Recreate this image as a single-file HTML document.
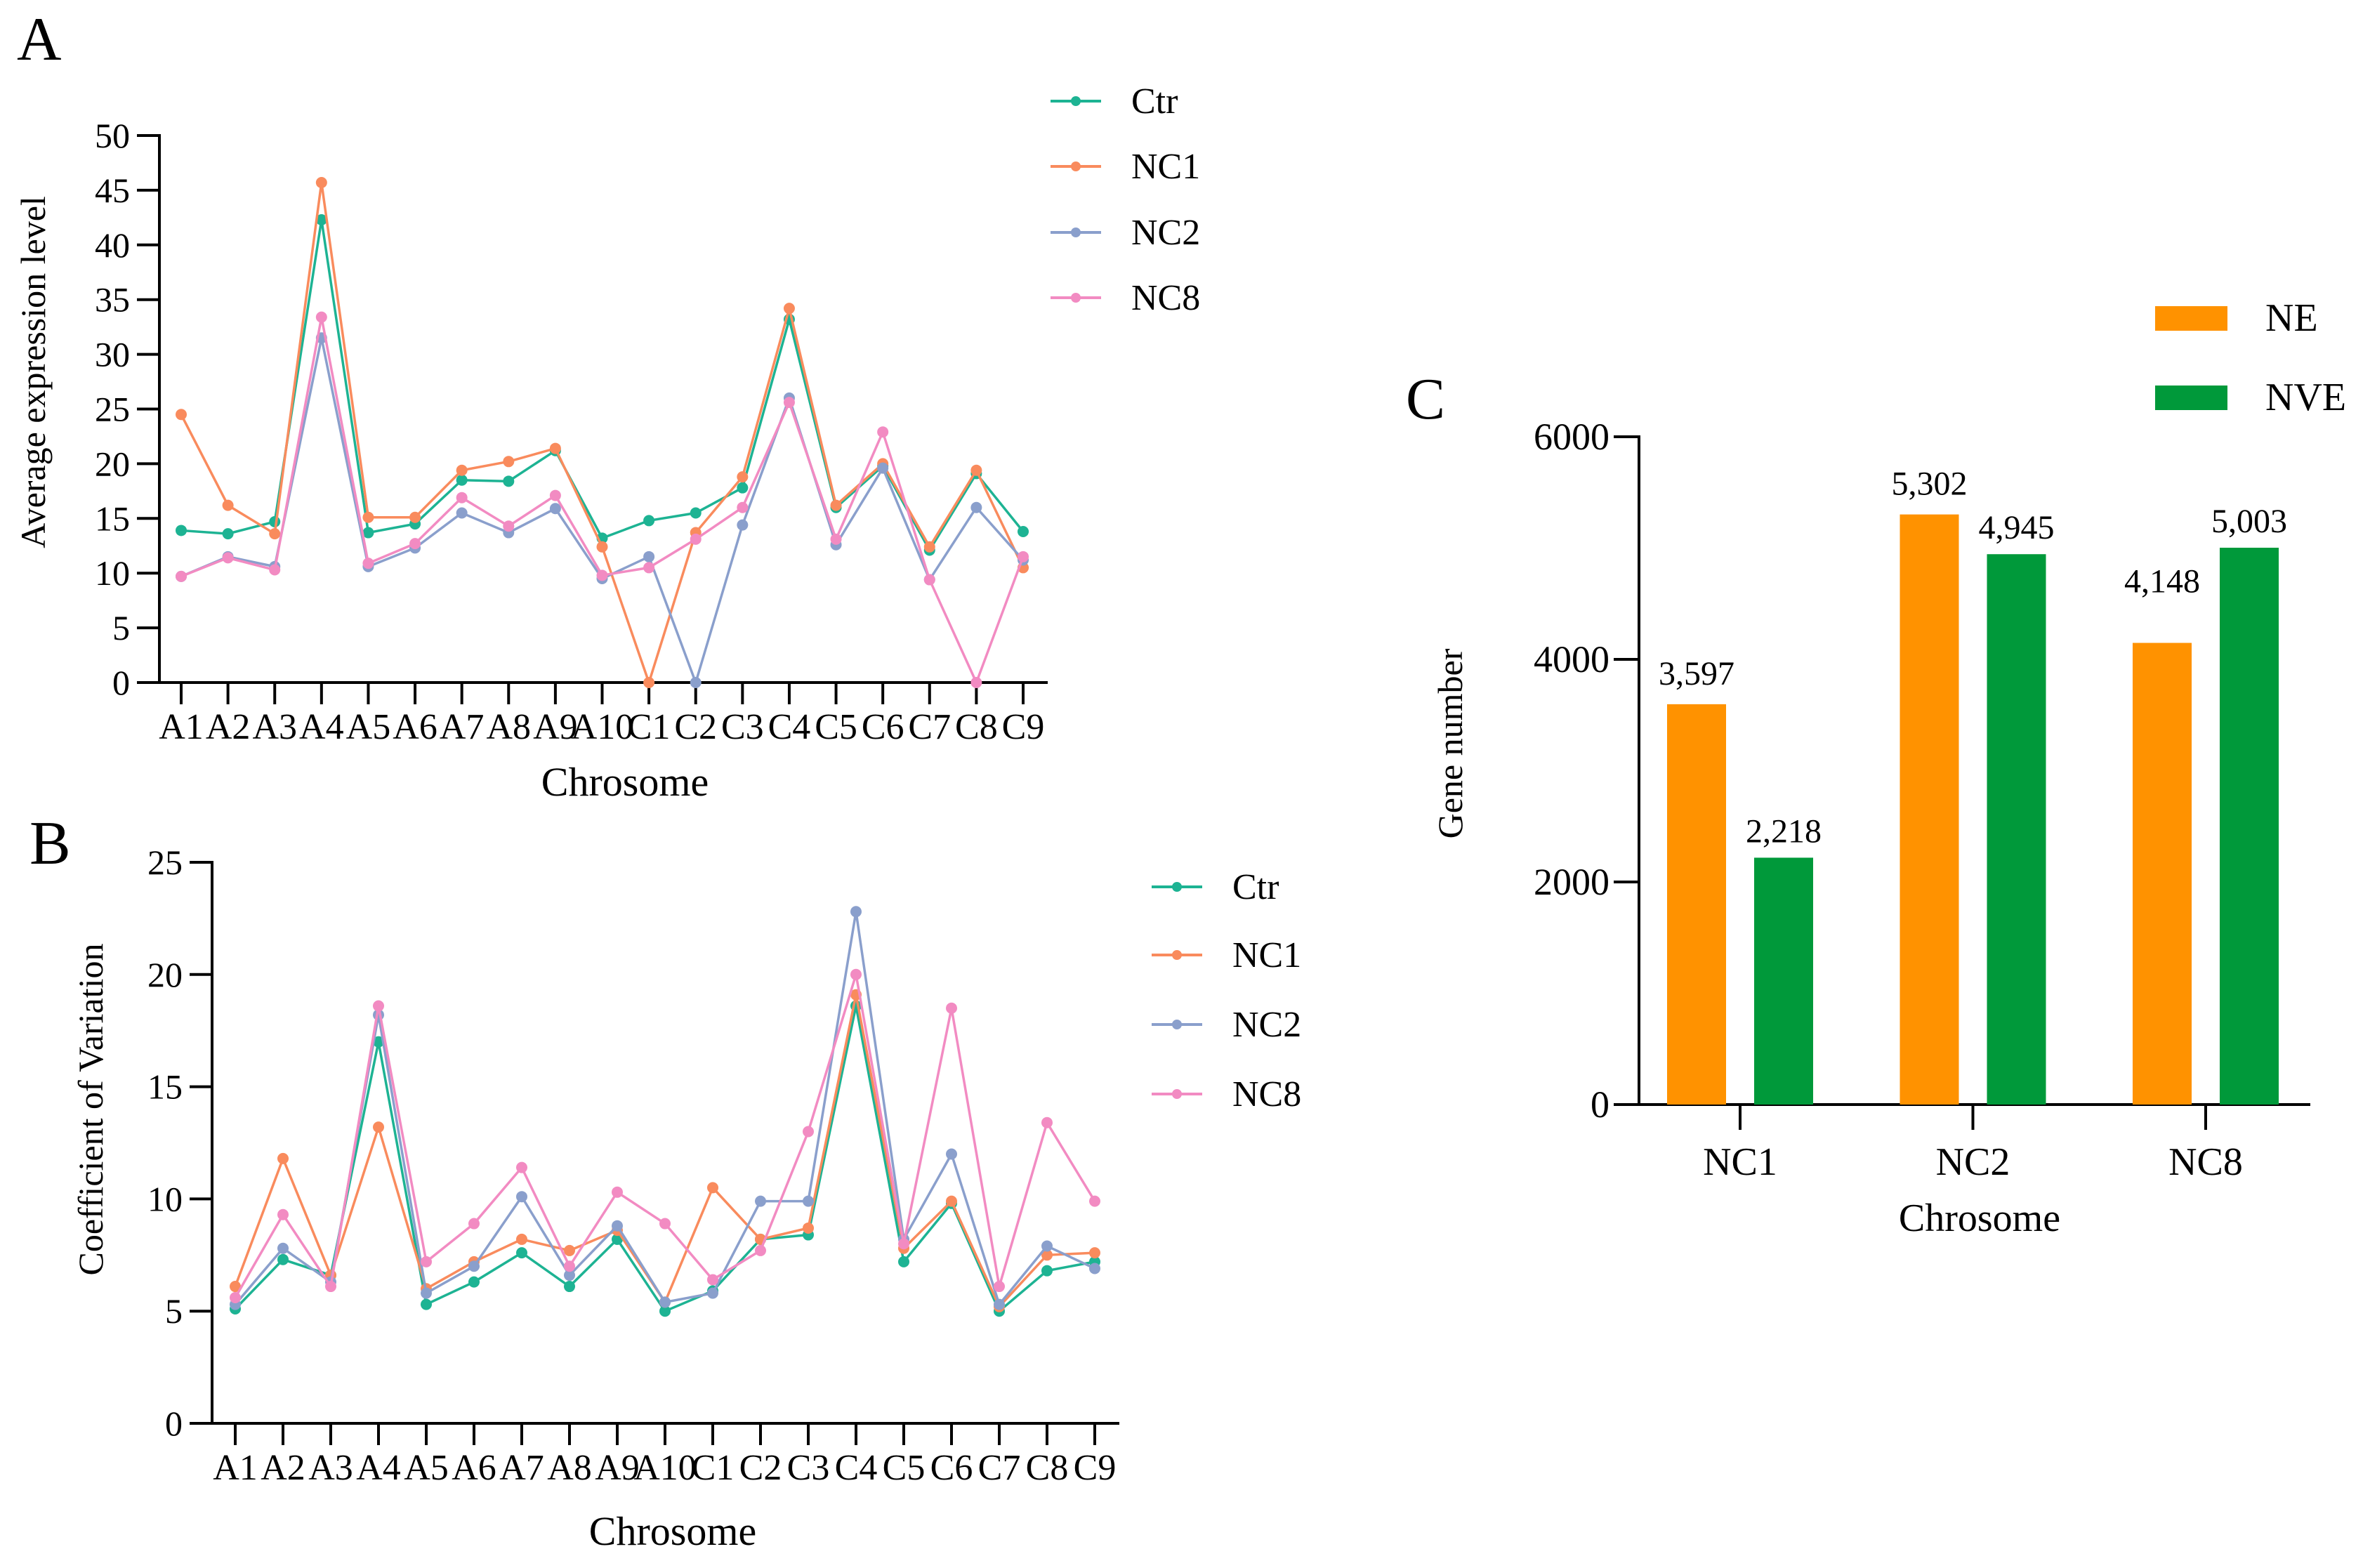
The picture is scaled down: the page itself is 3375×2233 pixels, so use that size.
<!DOCTYPE html>
<html><head><meta charset="utf-8"><style>
html,body{margin:0;padding:0;background:#fff;}
svg, svg text{font-family:"Liberation Serif","Times New Roman","DejaVu Serif",serif;}
svg{display:block;}
</style></head><body>
<svg id="fig" width="3375" height="2233" viewBox="0 0 3375 2233" xmlns="http://www.w3.org/2000/svg" font-family="Liberation Serif, Times New Roman, serif"></svg>
<script>
const chroms = ["A1","A2","A3","A4","A5","A6","A7","A8","A9","A10","C1","C2","C3","C4","C5","C6","C7","C8","C9"];
const seriesNames = ["Ctr","NC1","NC2","NC8"];
const exprCtr = [13.9,13.6,14.7,42.3,13.7,14.5,18.5,18.4,21.2,13.2,14.8,15.5,17.8,33.2,16.0,19.8,12.1,19.1,13.8];
const exprNC1 = [24.5,16.2,13.6,45.7,15.1,15.1,19.4,20.2,21.4,12.4,0,13.7,18.8,34.2,16.2,20.0,12.4,19.4,10.5];
const exprNC2 = [9.7,11.5,10.6,31.5,10.6,12.3,15.5,13.7,15.9,9.5,11.5,0,14.4,26.0,12.6,19.6,9.4,16.0,11.2];
const exprNC8 = [9.7,11.4,10.3,33.4,10.9,12.7,16.9,14.3,17.1,9.8,10.5,13.1,16.0,25.6,13.1,22.9,9.4,0,11.5];
const cvCtr = [5.1,7.3,6.6,17.0,5.3,6.3,7.6,6.1,8.2,5.0,5.9,8.2,8.4,18.6,7.2,9.8,5.0,6.8,7.2];
const cvNC1 = [6.1,11.8,6.6,13.2,6.0,7.2,8.2,7.7,8.6,5.4,10.5,8.2,8.7,19.1,7.8,9.9,5.2,7.5,7.6];
const cvNC2 = [5.3,7.8,6.3,18.2,5.8,7.0,10.1,6.6,8.8,5.4,5.8,9.9,9.9,22.8,8.2,12.0,5.3,7.9,6.9];
const cvNC8 = [5.6,9.3,6.1,18.6,7.2,8.9,11.4,7.0,10.3,8.9,6.4,7.7,13.0,20.0,8.0,18.5,6.1,13.4,9.9];
const ticksA = [0,5,10,15,20,25,30,35,40,45,50];
const ticksB = [0,5,10,15,20,25];
const groupsC = ["NC1","NC2","NC8"];
const neVals = [3597,5302,4148];
const nveVals = [2218,4945,5003];
const neLabels = ["3,597","5,302","4,148"];
const nveLabels = ["2,218","4,945","5,003"];
const ticksC = [0,2000,4000,6000];

const NS="http://www.w3.org/2000/svg";
const svg=document.getElementById('fig');
const colors={Ctr:"#1db393",NC1:"#f98b5d",NC2:"#8a9fcc",NC8:"#f28bc2"};
const FF='"Liberation Serif","Times New Roman",serif';
function el(tag,attrs,parent,text){const e=document.createElementNS(NS,tag);for(const k in attrs)e.setAttribute(k,attrs[k]);if(tag==='text')e.setAttribute('style','font-family:'+FF);if(text!==undefined)e.textContent=text;(parent||svg).appendChild(e);return e;}

function lineChart(o){
  const g=el('g',{});
  
  
  const ys=v=>o.y0-(v-o.ymin)/(o.ymax-o.ymin)*(o.y0-o.ytop);
  const xs=i=>o.x0+i*(o.x1-o.x0)/(chroms.length-1);
  const ya=el('line',{x1:o.ax,y1:o.ytop-2,x2:o.ax,y2:o.y0,stroke:"#000","stroke-width":4},g);
  
  const xa=el('line',{x1:o.ax-2,y1:o.y0,x2:o.axEnd,y2:o.y0,stroke:"#000","stroke-width":4},g);
  
  o.ticks.forEach(t=>{
    el('line',{x1:o.ax-32,y1:ys(t),x2:o.ax,y2:ys(t),stroke:"#000","stroke-width":4},g);
    const tl=el('text',{x:o.ax-42,y:ys(t)+17,"font-size":50,"text-anchor":"end"},g,String(t));
    
  });
  chroms.forEach((c,i)=>{
    el('line',{x1:xs(i),y1:o.y0,x2:xs(i),y2:o.y0+31,stroke:"#000","stroke-width":4},g);
    const tl=el('text',{x:xs(i),y:o.y0+80,"font-size":52,"text-anchor":"middle"},g,c);
    
  });
  o.series.forEach((arr,si)=>{
    const nm=seriesNames[si],col=colors[nm];
    const sg=el('g',{},g);
    
    const pts=arr.map((v,i)=>xs(i)+","+ys(v)).join(" ");
    el('polyline',{points:pts,fill:"none",stroke:col,"stroke-width":3.5},sg);
    arr.forEach((v,i)=>{const c=el('circle',{cx:xs(i),cy:ys(v),r:8,fill:col},sg);
      });
  });
  seriesNames.forEach((nm,i)=>{
    const lg=el('g',{},g);
    
    const y=o.legY[i];
    el('line',{x1:o.legX,y1:y,x2:o.legX+72,y2:y,stroke:colors[nm],"stroke-width":4},lg);
    el('circle',{cx:o.legX+36,cy:y,r:7,fill:colors[nm]},lg);
    el('text',{x:o.legX+115,y:y+17,"font-size":52},lg,nm);
  });
  const yt=el('text',{x:o.ytX,y:o.ytY,"font-size":o.ytSize,"text-anchor":"middle",transform:`rotate(-90 ${o.ytX} ${o.ytY})`},g,o.ytitle);
  
  const xt=el('text',{x:o.xtX,y:o.xtY,"font-size":58,"text-anchor":"middle"},g,"Chrosome");
  
  const pl=el('text',{x:o.plX,y:o.plY,"font-size":88},g,o.panel);
  
}

lineChart({name:'chart-a',ax:227,axEnd:1492,y0:972,ytop:193,ymin:0,ymax:50,x0:258,x1:1457,ticks:ticksA,
  series:[exprCtr,exprNC1,exprNC2,exprNC8],legX:1496,legY:[144,237,331,424],
  ytitle:"Average expression level",ytSize:50,ytX:64,ytY:530,xtX:890,xtY:1133,plX:24,plY:85,panel:"A"});
lineChart({name:'chart-b',ax:302,axEnd:1594,y0:2027,ytop:1228,ymin:0,ymax:25,x0:335,x1:1559,ticks:ticksB,
  series:[cvCtr,cvNC1,cvNC2,cvNC8],legX:1640,legY:[1263,1360,1459,1558],
  ytitle:"Coefficient of Variation",ytSize:50,ytX:146,ytY:1580,xtX:958,xtY:2200,plX:42,plY:1230,panel:"B"});

(function(){
  const g=el('g',{});
  
  const ax=2334,y0=1573,ytop=622,ymax=6000;
  const ys=v=>y0-v/ymax*(y0-ytop);
  const xs=i=>2478+i*331.5;
  const ya=el('line',{x1:ax,y1:ytop-2,x2:ax,y2:y0,stroke:"#000","stroke-width":4},g);
  
  const xa=el('line',{x1:ax-2,y1:y0,x2:3290,y2:y0,stroke:"#000","stroke-width":4},g);
  
  ticksC.forEach(t=>{
    el('line',{x1:ax-36,y1:ys(t),x2:ax,y2:ys(t),stroke:"#000","stroke-width":4},g);
    const tl=el('text',{x:ax-42,y:ys(t)+18,"font-size":54,"text-anchor":"end"},g,String(t));
    
  });
  groupsC.forEach((gn,i)=>{
    el('line',{x1:xs(i),y1:y0,x2:xs(i),y2:y0+36,stroke:"#000","stroke-width":4},g);
    const tl=el('text',{x:xs(i),y:y0+100,"font-size":56,"text-anchor":"middle"},g,gn);
    
    const b1=el('rect',{x:xs(i)-104,y:ys(neVals[i]),width:84,height:y0-ys(neVals[i]),fill:"#ff9200"},g);
    
    const b2=el('rect',{x:xs(i)+20,y:ys(nveVals[i]),width:84,height:y0-ys(nveVals[i]),fill:"#00993a"},g);
    
    const l1=el('text',{x:xs(i)-62,y:ys(neVals[i])-(i==2?72:28),"font-size":48,"text-anchor":"middle"},g,neLabels[i]);
    
    const l2=el('text',{x:xs(i)+62,y:ys(nveVals[i])-22,"font-size":48,"text-anchor":"middle"},g,nveLabels[i]);
    
  });
  const lg1=el('g',{},g);
  el('rect',{x:3069,y:436,width:103,height:35,fill:"#ff9200"},lg1);
  el('text',{x:3226,y:471,"font-size":56},lg1,"NE");
  const lg2=el('g',{},g);
  el('rect',{x:3069,y:549,width:103,height:35,fill:"#00993a"},lg2);
  el('text',{x:3226,y:584,"font-size":56},lg2,"NVE");
  const yt=el('text',{x:2082,y:1059,"font-size":50,"text-anchor":"middle",transform:"rotate(-90 2082 1059)"},g,"Gene number");
  
  const xt=el('text',{x:2819,y:1753,"font-size":56,"text-anchor":"middle"},g,"Chrosome");
  
  const pl=el('text',{x:2002,y:596,"font-size":84},g,"C");
  
})();
</script>
</body></html>
